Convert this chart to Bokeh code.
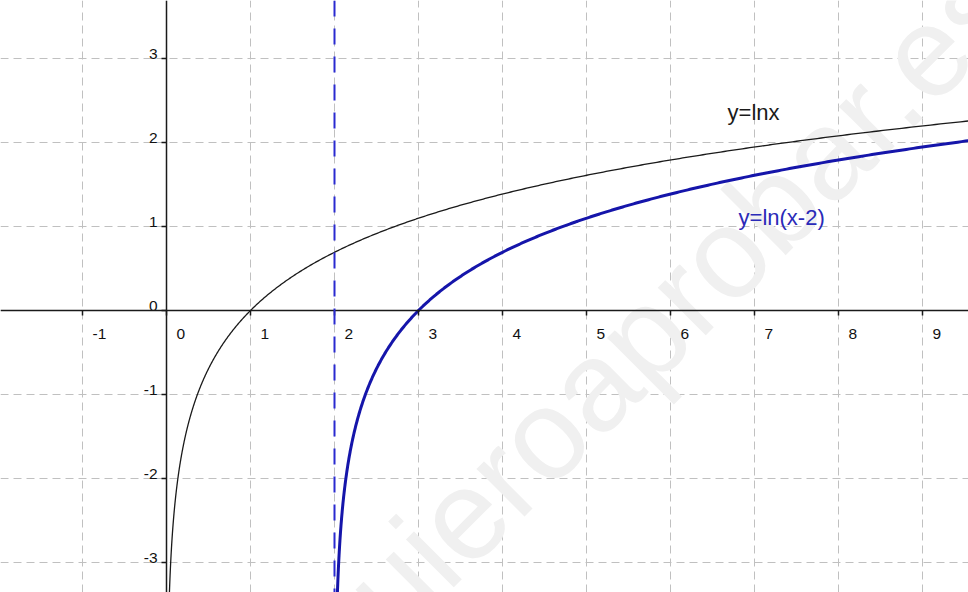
import numpy as np
from bokeh.plotting import figure
from bokeh.models import (LinearAxis, FixedTicker, Span, Range1d, Grid,
                          CustomJSTickFormatter)
from bokeh.core.properties import value
from bokeh.embed import file_html
from bokeh.resources import INLINE

# ---- data ----
x_ticks = [-1, 0, 1, 2, 3, 4, 5, 6, 7, 8, 9]
y_ticks = [-3, -2, -1, 0, 1, 2, 3]
x_tick_labels = ["-1", "0", "1", "2", "3", "4", "5", "6", "7", "8", "9"]
y_tick_labels = ["-3", "-2", "-1", "0", "1", "2", "3"]
asymptote_x = 2
shift = 2
curve_names = ["y=lnx", "y=ln(x-2)"]
name_x = [6.68, 6.81]
name_y = [2.357, 1.107]
watermark = "yoquieroaprobar.es"

# sample points of the plotted functions y = ln x and y = ln(x - 2)
x1 = np.geomspace(0.03, 9.7, 900)
y1 = np.log(x1)
x2 = shift + np.geomspace(0.03, 7.7, 900)
y2 = np.log(x2 - shift)

W, H = 968, 592
ox, oy, unit = 166, 310, 84.0
FONT = value("Liberation Sans")

p = figure(width=W, height=H, output_backend="svg", toolbar_location=None,
           x_range=Range1d(-ox / unit, (W - ox) / unit),
           y_range=Range1d(-(H - oy) / unit, oy / unit),
           x_axis_type=None, y_axis_type=None, min_border=0,
           background_fill_color="white", border_fill_color="white",
           styles={"position": "absolute", "left": "0px", "top": "0px"})
p.outline_line_color = None

# watermark
p.text(x=[5.25], y=[-0.714], text=[watermark], angle=np.pi / 4,
       text_font=FONT, text_font_size="128px",
       text_color="#f0f0f0", text_align="center", text_baseline="alphabetic")

# grid
for dim, ticks in ((0, x_ticks), (1, y_ticks)):
    p.add_layout(Grid(dimension=dim, ticker=FixedTicker(ticks=ticks),
                      grid_line_color="#c0c0c0", grid_line_dash="8 5",
                      grid_line_width=1), "center")

# axes through the origin
empty = CustomJSTickFormatter(code="return ''")
xaxis = LinearAxis(ticker=FixedTicker(ticks=x_ticks), fixed_location=0, formatter=empty)
yaxis = LinearAxis(ticker=FixedTicker(ticks=y_ticks), fixed_location=0, formatter=empty)
for ax in (xaxis, yaxis):
    ax.axis_line_color = "#1a1a1a"
    ax.axis_line_width = 1.5
    ax.major_tick_line_color = "#1a1a1a"
    ax.major_tick_line_width = 1.5
    ax.major_tick_in = 0
    ax.major_tick_out = 5
    ax.minor_tick_line_color = None
p.add_layout(xaxis, "below")
p.add_layout(yaxis, "left")

# tick labels
p.text(x=x_ticks, y=[0] * len(x_ticks), text=x_tick_labels, x_offset=10, y_offset=23,
       text_font=FONT, text_font_size="15.5px", text_color="#111111",
       text_align="left", text_baseline="alphabetic")
p.text(x=[0] * len(y_ticks), y=y_ticks, text=y_tick_labels, x_offset=-9, y_offset=-5,
       text_font=FONT, text_font_size="15.5px", text_color="#111111",
       text_align="right", text_baseline="alphabetic")

# asymptote
p.add_layout(Span(location=asymptote_x, dimension="height", line_color="#2a2ad0",
                  line_width=2, line_dash="16 12"))

# curves
p.line(x1, y1, line_color="#1a1a1a", line_width=1.3)
p.line(x2, y2, line_color="#1515aa", line_width=3)

# curve names
p.text(x=name_x[:1], y=name_y[:1], text=curve_names[:1],
       text_font=FONT, text_font_size="22px", text_color="#1a1a1a",
       text_align="left", text_baseline="alphabetic")
p.text(x=name_x[1:], y=name_y[1:], text=curve_names[1:],
       text_font=FONT, text_font_size="22px", text_color="#2a2ab8",
       text_align="left", text_baseline="alphabetic")

open("out.html", "w").write(file_html(p, INLINE))
